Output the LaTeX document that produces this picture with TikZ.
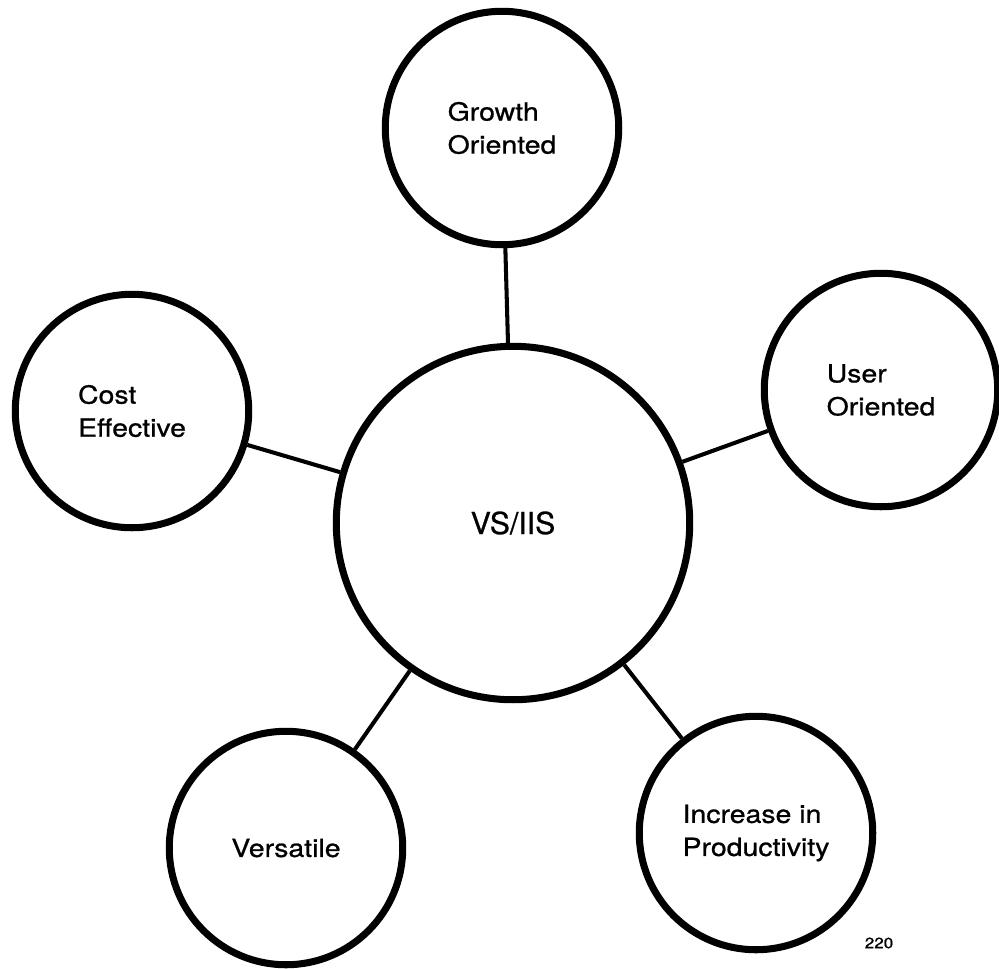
\documentclass[tikz,border=0pt]{standalone}
\usepackage{fontspec}
\setmainfont[FakeBold=0.8]{TeX Gyre Heros}
\newfontfamily\labelfont[FakeStretch=1.14, FakeBold=0.8]{TeX Gyre Heros}

\begin{document}
\begin{tikzpicture}[
        x=0.02cm, y=-0.02cm,
        hub/.style={circle, draw, line width=4pt, minimum size=7.07cm, inner sep=0pt, font=\fontsize{17.2}{20}\selectfont},
        spoke/.style={circle, draw, line width=4pt, minimum size=4.67cm, inner sep=0pt, align=left, font=\labelfont\fontsize{14.2}{18.8}\selectfont},
        link/.style={line width=2.3pt}
    ]
        \useasboundingbox (0,0) rectangle (999,968);

        \node[hub] (vsiis) at (513,523) {VS/IIS};

        \node[spoke] (growth) at (502,128) {Growth\\Oriented};
        \node[spoke] (user) at (881,390) {User\\Oriented};
        \node[spoke] (cost) at (132,411) {Cost\\Effective};
        \node[spoke] (versatile) at (286,848) {Versatile};
        \node[spoke] (increase) at (756,833) {Increase in\\Productivity};

        \draw[link] (vsiis) -- (growth);
        \draw[link] (vsiis) -- (user);
        \draw[link] (vsiis) -- (cost);
        \draw[link] (vsiis) -- (versatile);
        \draw[link] (vsiis) -- (increase);

        \node[font=\labelfont\fontsize{8.5}{10}\selectfont] (pagenum) at (879,943) {220};
    \end{tikzpicture}
\end{document}
